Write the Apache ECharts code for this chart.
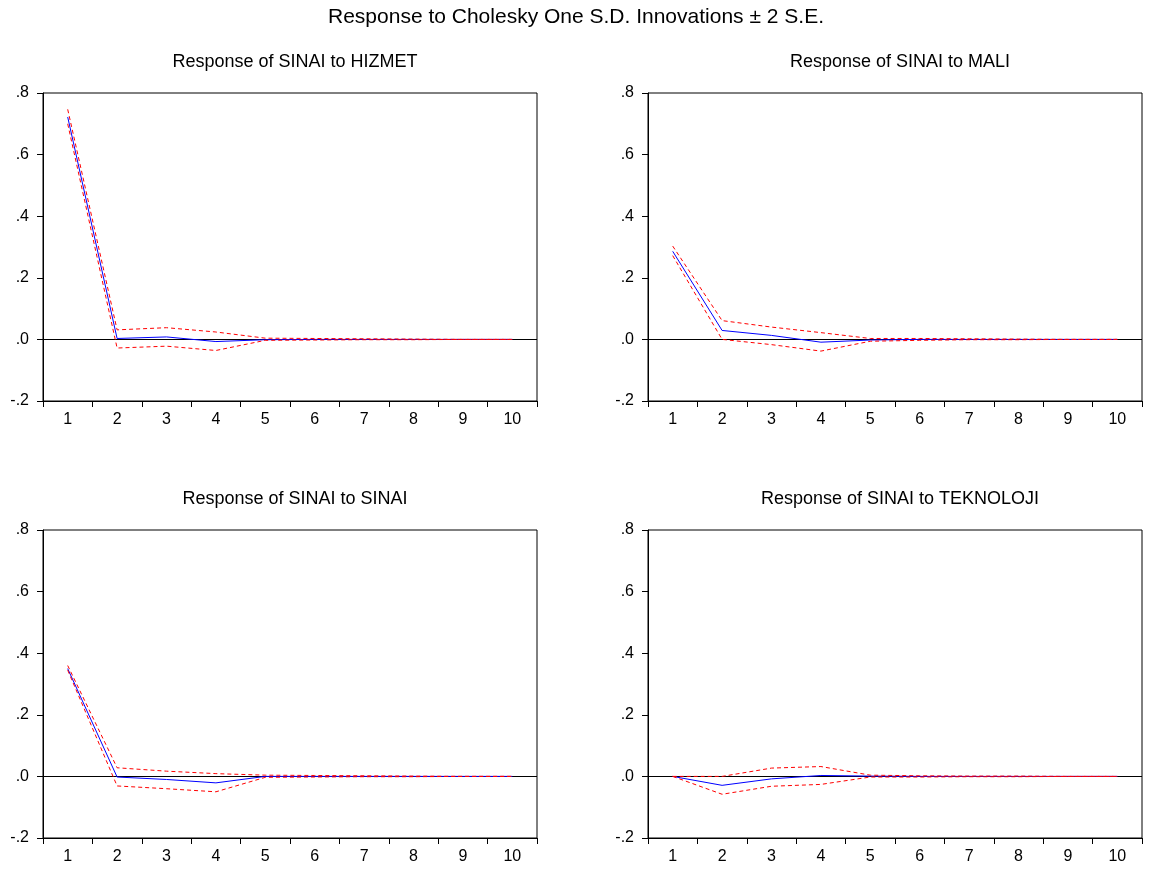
<!DOCTYPE html>
<html>
<head>
<meta charset="utf-8">
<script src="https://cdn.jsdelivr.net/npm/echarts@6/dist/echarts.min.js"></script>
<style>html,body{margin:0;padding:0;background:#fff}#c{width:1152px;height:870px}</style>
</head>
<body>
<div id="c"></div>
<script>
const periods = ['1','2','3','4','5','6','7','8','9','10'];
const yTicks = { min: -0.2, max: 0.8, interval: 0.2 };
const mainTitle = 'Response to Cholesky One S.D. Innovations \u00b1 2 S.E.';
const panelTitles = ['Response of SINAI to HIZMET','Response of SINAI to MALI','Response of SINAI to SINAI','Response of SINAI to TEKNOLOJI'];

const hizmetResp  = [0.722, 0.003, 0.008, -0.007, -0.001, 0.000, 0.000, 0.000, 0.000, 0.000];
const hizmetUpper = [0.747, 0.031, 0.038, 0.024, 0.004, 0.003, 0.002, 0.001, 0.000, 0.000];
const hizmetLower = [0.700, -0.028, -0.022, -0.036, -0.003, -0.002, -0.001, -0.001, 0.000, 0.000];

const maliResp  = [0.286, 0.029, 0.013, -0.009, -0.002, 0.000, 0.000, 0.000, 0.000, 0.000];
const maliUpper = [0.303, 0.061, 0.040, 0.022, 0.003, 0.003, 0.002, 0.001, 0.000, 0.000];
const maliLower = [0.272, 0.000, -0.017, -0.038, -0.006, -0.003, -0.001, -0.001, 0.000, 0.000];

const sinaiResp  = [0.350, -0.002, -0.010, -0.021, 0.000, 0.000, 0.000, 0.000, 0.000, 0.000];
const sinaiUpper = [0.360, 0.028, 0.017, 0.009, 0.004, 0.003, 0.002, 0.001, 0.000, 0.000];
const sinaiLower = [0.345, -0.031, -0.040, -0.050, -0.003, -0.002, -0.001, -0.001, 0.000, 0.000];

const teknResp  = [0.000, -0.029, -0.008, 0.003, 0.001, 0.000, 0.000, 0.000, 0.000, 0.000];
const teknUpper = [0.000, 0.000, 0.027, 0.032, 0.004, 0.002, 0.001, 0.001, 0.000, 0.000];
const teknLower = [0.000, -0.058, -0.032, -0.026, -0.002, -0.002, -0.001, -0.001, 0.000, 0.000];

const panels = [
  [hizmetResp, hizmetUpper, hizmetLower],
  [maliResp, maliUpper, maliLower],
  [sinaiResp, sinaiUpper, sinaiLower],
  [teknResp, teknUpper, teknLower]
];

const FONT = 'Liberation Sans, Arial, sans-serif';
const gridPos = [
  {left: 43, top: 93}, {left: 648, top: 93},
  {left: 43, top: 530}, {left: 648, top: 530}
];
const GW = 494, GH = 308;

function fmtY(v) {
  const r = Math.round(v * 10) / 10;
  if (r === 0) return '.0';
  return r.toFixed(1).replace('0.', '.');
}

const grid = [], xAxis = [], yAxis = [], series = [];
const title = [{
  text: mainTitle, left: 'center', top: 2,
  textStyle: {fontFamily: FONT, fontSize: 21, fontWeight: 'normal', color: '#000'}
}];

gridPos.forEach((g, i) => {
  grid.push({left: g.left, top: g.top, width: GW, height: GH, show: true,
    borderColor: '#000', borderWidth: 1, backgroundColor: '#fff', containLabel: false});
  title.push({
    text: panelTitles[i], left: g.left + GW / 2, top: g.top - 45, textAlign: 'center',
    textStyle: {fontFamily: FONT, fontSize: 18, fontWeight: 'normal', color: '#000'}
  });
  xAxis.push({
    type: 'category', gridIndex: i, data: periods, boundaryGap: true,
    axisLine: {show: true, onZero: false, lineStyle: {color: '#000', width: 1}},
    axisTick: {show: true, inside: false, length: 6, alignWithLabel: false, lineStyle: {color: '#000'}},
    axisLabel: {fontFamily: FONT, fontSize: 16, color: '#000', margin: 11},
    splitLine: {show: false}
  });
  yAxis.push({
    type: 'value', gridIndex: i, min: yTicks.min, max: yTicks.max, interval: yTicks.interval,
    axisLine: {show: true, onZero: false, lineStyle: {color: '#000', width: 1}},
    axisTick: {show: true, inside: false, length: 6, lineStyle: {color: '#000'}},
    axisLabel: {fontFamily: FONT, fontSize: 16, color: '#000', margin: 14, formatter: fmtY},
    splitLine: {show: false}
  });
  const [resp, up, lo] = panels[i];
  series.push({
    type: 'line', xAxisIndex: i, yAxisIndex: i, data: resp, symbol: 'none', silent: true,
    lineStyle: {color: '#0000ff', width: 1}, z: 3,
    markLine: {silent: true, symbol: 'none', label: {show: false},
      lineStyle: {color: '#000', width: 1, type: 'solid'},
      data: [{yAxis: 0}], z: 1}
  });
  series.push({
    type: 'line', xAxisIndex: i, yAxisIndex: i, data: up, symbol: 'none', silent: true,
    lineStyle: {color: '#ff0000', width: 1, type: [4, 3]}, z: 4
  });
  series.push({
    type: 'line', xAxisIndex: i, yAxisIndex: i, data: lo, symbol: 'none', silent: true,
    lineStyle: {color: '#ff0000', width: 1, type: [4, 3]}, z: 4
  });
});

const chart = echarts.init(document.getElementById('c'), null, {renderer: 'canvas'});
chart.setOption({
  animation: false, backgroundColor: '#fff',
  title, grid, xAxis, yAxis, series
});
</script>
</body>
</html>
